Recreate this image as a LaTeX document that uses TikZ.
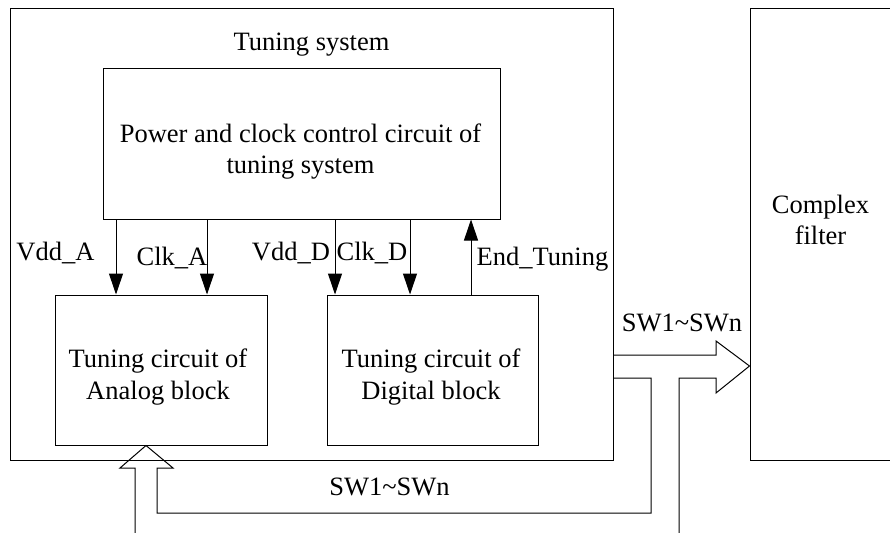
\documentclass[tikz,border=0pt]{standalone}
\usepackage{fontspec}
\setmainfont{Liberation Serif}
\usetikzlibrary{arrows.meta}

\begin{document}
\begin{tikzpicture}[x=1pt,y=-1pt,
  every node/.style={font=\fontsize{26.5}{31.5}\selectfont},
  box/.style={draw=black, line width=1pt, inner sep=0pt},
  txt/.style={inner sep=0pt, align=center},
  lbl/.style={inner sep=0pt, anchor=base},
  sig/.style={line width=1pt, -{Triangle[length=21pt,width=14pt]}},
  bus/.style={line width=1pt, line join=miter}]

\useasboundingbox (0,0) rectangle (890,532);
\clip (0,0) rectangle (890,532);

% blocks
\node[box, minimum width=603pt, minimum height=451pt] (tsys)    at (311.5,234.5) {};
\node[box, minimum width=397pt, minimum height=150pt] (ctrl)    at (301.5,144)   {};
\node[box, minimum width=212pt, minimum height=150pt] (analog)  at (161,370)     {};
\node[box, minimum width=211pt, minimum height=150pt] (digital) at (432.5,370)   {};
\node[box, minimum width=200pt, minimum height=451pt] (filter)  at (850,234.5)   {};

% block texts
\node[lbl] (tsysT) at (311.5,51) {Tuning system};
\node[txt] (ctrlT) at (300.5,151.5) {Power and clock control circuit of\\tuning system};
\node[txt] (analogT) at (158,377) {Tuning circuit of\\Analog block};
\node[txt] (digitalT) at (431,377) {Tuning circuit of\\Digital block};
\node[txt] (filterT) at (820.5,220) {Complex\\filter};

% control signals
\draw[sig] (ctrl.south -| 116,0) -- (analog.north -| 116,0);
\draw[sig] (ctrl.south -| 207,0) -- (analog.north -| 207,0);
\draw[sig] (ctrl.south -| 335,0) -- (digital.north -| 335,0);
\draw[sig] (ctrl.south -| 410,0) -- (digital.north -| 410,0);
\draw[sig] (digital.north -| 471,0) -- (ctrl.south -| 471,0);

\node[lbl] (lvdda) at (55.5,260) {Vdd\_A};
\node[lbl] (lclka) at (172,265) {Clk\_A};
\node[lbl] (lvddd) at (291,260) {Vdd\_D};
\node[lbl] (lclkd) at (372,260) {Clk\_D};
\node[lbl] (lend)  at (542.5,265) {End\_Tuning};

% switch buses
\coordinate (busAin)  at (679,540);
\coordinate (busBout) at (135,540);
\draw[bus] (tsys.east |- 0,355) -- (716,355) -- (716,341)
  -- (filter.west |- 0,366) -- (716,393) -- (716,378) -- (679,378) -- (busAin);
\draw[bus] (tsys.east |- 0,378) -- (651,378) -- (651,513) -- (157,513)
  -- (157,468) -- (173,468) -- (analog.south -| 146,0) -- (120,468)
  -- (135,468) -- (busBout);

\node[lbl] (lswa) at (682,331) {SW1\textasciitilde SWn};
\node[lbl] (lswb) at (389.5,495) {SW1\textasciitilde SWn};

\end{tikzpicture}
\end{document}
